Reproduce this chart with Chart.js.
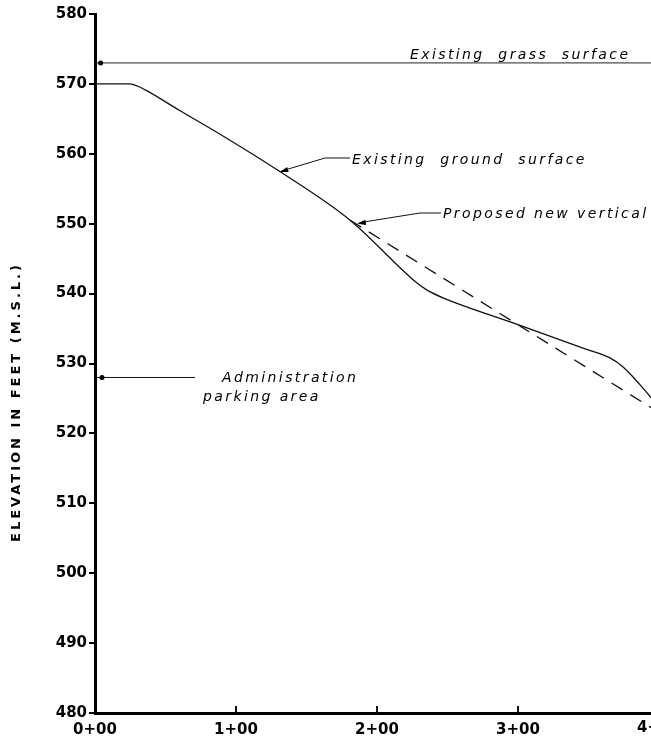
<!DOCTYPE html>
<html>
<head>
<meta charset="utf-8">
<script src="https://cdn.jsdelivr.net/npm/chart.js@4.4.1/dist/chart.umd.min.js"></script>
<style>
  html, body { margin: 0; padding: 0; background: #fff; }
  #wrap { width: 651px; height: 741px; }
</style>
</head>
<body>
<div id="wrap"><canvas id="profile"></canvas></div>
<script>
// stations in feet (1+00 = 100 ft), elevations in feet M.S.L.
const groundStations = [0, 24.8, 30, 36, 60, 88.7, 130, 180.9, 228.4, 235.5, 246.8, 296.5, 346.1, 365.2, 374.5, 391.5, 394.3];
const groundElev     = [570, 570, 569.7, 569.1, 566.2, 562.8, 557.6, 550.5, 541.5, 540.5, 539.4, 535.8, 532.2, 530.8, 529.5, 525.8, 525.1];

const proposedStations = [180.9, 394.3];
const proposedElev     = [550.5, 523.7];

const grassStations = [0, 394.3];
const grassElev     = [573, 573];

const stationTicks = [0, 100, 200, 300, 400];
const stationLabels = ["0+00", "1+00", "2+00", "3+00", "4+00"];
const elevTicks = [480, 490, 500, 510, 520, 530, 540, 550, 560, 570, 580];

const toPoints = (xs, ys) => xs.map((x, i) => ({ x: x, y: ys[i] }));

const HAND = 'italic 14px "DejaVu Sans"';

function arrowHead(ctx, fromX, fromY, toX, toY, size) {
    const a = Math.atan2(toY - fromY, toX - fromX);
    ctx.beginPath();
    ctx.moveTo(toX, toY);
    ctx.lineTo(toX - size * Math.cos(a - 0.3), toY - size * Math.sin(a - 0.3));
    ctx.lineTo(toX - size * Math.cos(a + 0.3), toY - size * Math.sin(a + 0.3));
    ctx.closePath();
    ctx.fill();
}

const notes = {
    id: 'notes',
    afterDraw(chart) {
        const ctx = chart.ctx;
        const xs = chart.scales.x, ys = chart.scales.y;
        const area = chart.chartArea;
        ctx.save();
        ctx.fillStyle = '#000';
        ctx.strokeStyle = '#111';
        ctx.lineWidth = 1;

        // inward ticks on station axis
        stationTicks.slice(1, 4).forEach(v => {
            const px = xs.getPixelForValue(v);
            ctx.beginPath();
            ctx.lineWidth = 2;
            ctx.moveTo(px, area.bottom);
            ctx.lineTo(px, area.bottom - 7);
            ctx.stroke();
        });
        ctx.lineWidth = 1;

        // 4+00 label, partly off the canvas
        ctx.font = 'bold 15px "DejaVu Sans"';
        ctx.textAlign = 'center';
        ctx.textBaseline = 'top';
        ctx.fillText(stationLabels[4], xs.getPixelForValue(400), area.bottom + 8);

        // y axis title
        ctx.save();
        ctx.translate(17, 402);
        ctx.rotate(-Math.PI / 2);
        ctx.font = 'bold 13px "DejaVu Sans"';
        ctx.letterSpacing = '3px';
        ctx.textAlign = 'center';
        ctx.textBaseline = 'middle';
        ctx.fillText('ELEVATION IN FEET (M.S.L.)', 0, 0);
        ctx.restore();

        ctx.font = HAND;
        ctx.letterSpacing = '2.4px';
        ctx.textAlign = 'left';
        ctx.textBaseline = 'alphabetic';

        // grass surface
        const gy = ys.getPixelForValue(573);
        ctx.beginPath();
        ctx.arc(xs.getPixelForValue(4), gy, 2.5, 0, Math.PI * 2);
        ctx.fill();
        ctx.fillText('Existing  grass  surface', 410, gy - 4);

        // ground surface leader
        const tx = xs.getPixelForValue(131), ty = ys.getPixelForValue(557.4);
        ctx.beginPath();
        ctx.moveTo(350, 158);
        ctx.lineTo(325, 158);
        ctx.lineTo(tx + 2, ty - 1);
        ctx.stroke();
        arrowHead(ctx, 325, 158, tx, ty, 9);
        ctx.fillText('Existing  ground  surface', 352, 164);

        // proposed leader
        const px = xs.getPixelForValue(186), py = ys.getPixelForValue(550);
        ctx.beginPath();
        ctx.moveTo(441, 213);
        ctx.lineTo(420, 213);
        ctx.lineTo(px + 2, py - 1);
        ctx.stroke();
        arrowHead(ctx, 420, 213, px, py, 9);
        ctx.fillText('Proposed new vertical', 443, 218);

        // administration parking area
        const ay = ys.getPixelForValue(528);
        ctx.beginPath();
        ctx.moveTo(area.left, ay);
        ctx.lineTo(xs.getPixelForValue(71), ay);
        ctx.stroke();
        ctx.beginPath();
        ctx.arc(xs.getPixelForValue(5), ay, 2.5, 0, Math.PI * 2);
        ctx.fill();
        ctx.fillText('Administration', 222, 382);
        ctx.fillText('parking area', 203, 401);

        ctx.restore();
    }
};

new Chart(document.getElementById('profile'), {
    type: 'scatter',
    data: {
        datasets: [
            {
                label: 'Existing ground surface',
                data: toPoints(groundStations, groundElev),
                showLine: true,
                borderColor: '#111',
                borderWidth: 1.3,
                pointRadius: 0,
                cubicInterpolationMode: 'monotone'
            },
            {
                label: 'Proposed new vertical',
                data: toPoints(proposedStations, proposedElev),
                showLine: true,
                borderColor: '#111',
                borderWidth: 1.3,
                borderDash: [13, 9],
                pointRadius: 0
            },
            {
                label: 'Existing grass surface',
                data: toPoints(grassStations, grassElev),
                showLine: true,
                borderColor: '#222',
                borderWidth: 1,
                pointRadius: 0
            }
        ]
    },
    options: {
        responsive: true,
        maintainAspectRatio: false,
        animation: false,
        layout: { padding: { top: 14, left: 0, right: 0, bottom: 0 } },
        plugins: { legend: { display: false }, tooltip: { enabled: false } },
        scales: {
            x: {
                type: 'linear',
                min: 0,
                max: 394.3,
                afterBuildTicks: s => { s.ticks = stationTicks.slice(0, 4).map(v => ({ value: v })); },
                afterFit: s => { s.height = 28; },
                grid: { display: true, drawOnChartArea: false, drawTicks: false },
                border: { color: '#000', width: 3 },
                ticks: {
                    padding: 8,
                    color: '#000',
                    font: { family: 'DejaVu Sans', size: 15, weight: 'bold' },
                    callback: v => stationLabels[stationTicks.indexOf(v)]
                }
            },
            y: {
                min: 480,
                max: 580,
                afterBuildTicks: s => { s.ticks = elevTicks.map(v => ({ value: v })); },
                afterFit: s => { s.width = 95; },
                grid: { display: true, drawOnChartArea: false, tickLength: 6, color: '#000', lineWidth: 2 },
                border: { color: '#000', width: 3 },
                ticks: {
                    padding: 2,
                    color: '#000',
                    font: { family: 'DejaVu Sans', size: 15, weight: 'bold' }
                }
            }
        }
    },
    plugins: [notes]
});
</script>
</body>
</html>
